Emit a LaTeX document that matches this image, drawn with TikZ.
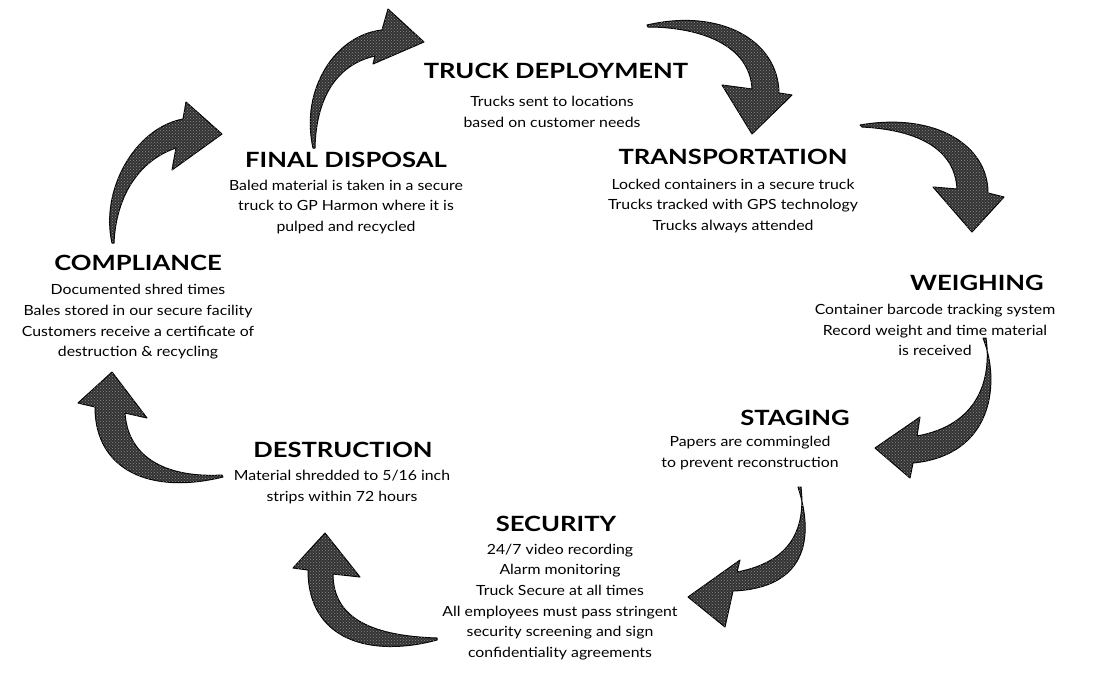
\documentclass[tikz,border=0pt]{standalone}
\usepackage{fontspec}
\setmainfont[FakeStretch=1.13]{Lato}
\newfontfamily\ttlfont[FakeStretch=1.22]{Lato}
\usetikzlibrary{patterns}
\begin{document}
\begin{tikzpicture}[x=1pt,y=-1pt,
  ttl/.style={font=\fontsize{21}{24}\ttlfont\bfseries, inner sep=0pt},
  bdy/.style={font=\fontsize{14}{20.7}\selectfont, align=center, inner sep=0pt},
  bigarrow/.style={fill=black!80, draw=black, line width=1pt, line join=round,
    postaction={pattern=crosshatch dots, pattern color=black!45}}]
\useasboundingbox[fill=white] (0,0) rectangle (1116,681);

% titles
\node[ttl] (tdT) at (556,71) {TRUCK DEPLOYMENT};
\node[ttl] (fdT) at (346,160) {FINAL DISPOSAL};
\node[ttl] (trT) at (733,157) {TRANSPORTATION};
\node[ttl] (weT) at (977,283) {WEIGHING};
\node[ttl] (stT) at (795,418) {STAGING};
\node[ttl] (seT) at (556,524) {SECURITY};
\node[ttl] (deT) at (343,450) {DESTRUCTION};
\node[ttl] (coT) at (138,263) {COMPLIANCE};

% bodies
\node[bdy] (tdB) at (552,112) {Trucks sent to locations\\based on customer needs};
\node[bdy] (fdB) at (346,207) {Baled material is taken in a secure\\truck to GP Harmon where it is\\pulped and recycled};
\node[bdy] (trB) at (733,206) {Locked containers in a secure truck\\Trucks tracked with GPS technology\\Trucks always attended};
\node[bdy] (weB) at (935,330) {Container barcode tracking system\\Record weight and time material\\is received};
\node[bdy] (stB) at (750,453) {Papers are commingled\\to prevent reconstruction};
\node[bdy] (seB) at (560,602) {24/7 video recording\\Alarm monitoring\\Truck Secure at all times\\All employees must pass stringent\\security screening and sign\\confidentiality agreements};
\node[bdy] (deB) at (342,487) {Material shredded to 5/16 inch\\strips within 72 hours};
\node[bdy] (coB) at (138,322) {Documented shred times\\Bales stored in our secure facility\\Customers receive a certificate of\\destruction \& recycling};

% arrow tails and tips
\coordinate (aT) at (112,243); \coordinate (aH) at (222,134);
\coordinate (bT) at (313,148); \coordinate (bH) at (424,42);
\coordinate (cT) at (647,25);  \coordinate (cH) at (752,134);
\coordinate (dT) at (860,125); \coordinate (dH) at (972,232);
\coordinate (eT) at (983,338); \coordinate (eH) at (875,448);
\coordinate (fT) at (798,487); \coordinate (fH) at (688,597);
\coordinate (gT) at (437,640); \coordinate (gH) at (325,533);
\coordinate (hT) at (223,477); \coordinate (hH) at (112,372);

% A: compliance -> final disposal
\draw[bigarrow] (aT) .. controls (100,190) and (135,128) .. (183,119) -- (186,102) -- (aH) -- (172,170) -- (176,148) .. controls (140,160) and (116,195) .. (114,243) -- cycle;
% B: final disposal -> truck deployment
\draw[bigarrow] (bT) .. controls (300,90) and (335,35) .. (382,30) -- (388,9) -- (bH) -- (373,64) -- (375,56) .. controls (335,65) and (316,100) .. (315,148) -- cycle;
% C: truck deployment -> transportation
\draw[bigarrow] (cT) .. controls (720,8) and (778,40) .. (779,93) -- (792,95) -- (cH) -- (722,85) -- (752,89) .. controls (750,45) and (700,27) .. (648,27) -- cycle;
% D: transportation -> weighing
\draw[bigarrow] (dT) .. controls (935,112) and (988,145) .. (988,193) -- (1004,197) -- (dH) -- (933,187) -- (957,189) .. controls (955,150) and (920,130) .. (862,127) -- cycle;
% E: weighing -> staging
\draw[bigarrow] (eT) .. controls (1000,380) and (995,455) .. (913,463) -- (910,478) -- (eH) -- (920,417) -- (917,436) .. controls (978,425) and (992,380) .. (986,338) -- cycle;
% F: staging -> security
\draw[bigarrow] (fT) .. controls (815,540) and (805,588) .. (733,591) -- (725,627) -- (fH) -- (740,560) -- (737,572) .. controls (790,562) and (806,530) .. (801,487) -- cycle;
% G: security -> destruction
\draw[bigarrow] (gT) .. controls (370,658) and (308,640) .. (308,570) -- (293,568) -- (gH) -- (360,577) -- (333,574) .. controls (333,620) and (375,636) .. (437,638) -- cycle;
% H: destruction -> compliance
\draw[bigarrow] (hT) .. controls (150,495) and (95,470) .. (95,407) -- (78,403) -- (hH) -- (147,418) -- (125,413) .. controls (128,460) and (170,478) .. (222,475) -- cycle;
\end{tikzpicture}
\end{document}
